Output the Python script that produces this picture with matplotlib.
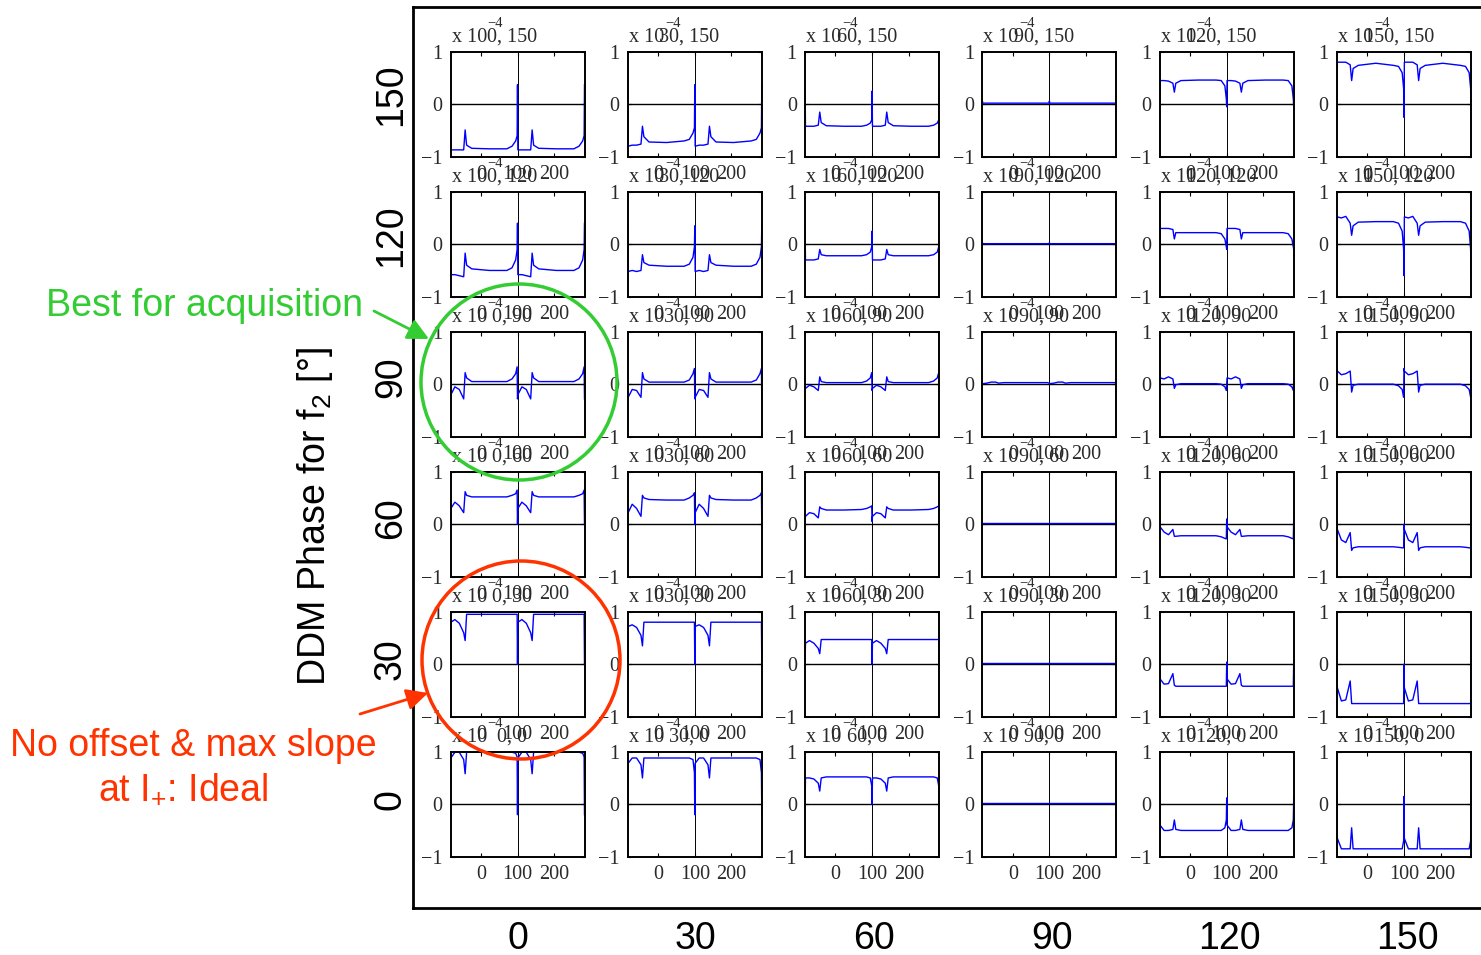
import matplotlib.pyplot as plt
from matplotlib.patches import Circle
from matplotlib.transforms import offset_copy

plt.rcParams['font.family'] = ['Liberation Sans', 'DejaVu Sans']
plt.rcParams['mathtext.fontset'] = 'custom'
plt.rcParams['mathtext.rm'] = 'Liberation Sans'

# phases of the 6x6 grid (columns left->right, rows top->bottom)
col_phases = [0, 30, 60, 90, 120, 150]
row_phases = [150, 120, 90, 60, 30, 0]
sub_xticks = [0, 100, 200]
sub_yticks = [-1, 0, 1]

# one period of each discriminator curve, sampled at these offsets
x_start = -83
period = 183
u_knots = [0, 1, 12, 24, 36, 40, 44, 58, 106, 154, 168, 178, 182]

# values (x 1e-4) at u_knots, one list per column, per row
row_150 = [
    [0.37, -0.87, -0.87, -0.87, -0.87, -0.49, -0.78, -0.84, -0.85, -0.85, -0.80, -0.70, -0.60],
    [0.37, -0.80, -0.78, -0.78, -0.76, -0.42, -0.62, -0.72, -0.73, -0.70, -0.67, -0.55, -0.45],
    [0.25, -0.42, -0.42, -0.42, -0.40, -0.15, -0.35, -0.41, -0.42, -0.42, -0.40, -0.36, -0.30],
    [0.06, 0.02, 0.02, 0.02, 0.02, 0.02, 0.02, 0.02, 0.02, 0.02, 0.02, 0.02, 0.02],
    [-0.05, 0.45, 0.45, 0.44, 0.40, 0.23, 0.40, 0.45, 0.46, 0.46, 0.45, 0.35, 0.10],
    [-0.25, 0.80, 0.80, 0.80, 0.75, 0.45, 0.68, 0.74, 0.78, 0.74, 0.72, 0.60, 0.30],
]
row_120 = [
    [0.40, -0.58, -0.58, -0.60, -0.62, -0.17, -0.40, -0.47, -0.50, -0.50, -0.45, -0.30, -0.10],
    [0.35, -0.52, -0.50, -0.52, -0.50, -0.20, -0.35, -0.40, -0.42, -0.42, -0.38, -0.25, -0.05],
    [0.25, -0.30, -0.30, -0.30, -0.28, -0.10, -0.20, -0.22, -0.22, -0.22, -0.20, -0.15, -0.05],
    [0.03, 0.01, 0.01, 0.01, 0.01, 0.01, 0.01, 0.01, 0.01, 0.01, 0.01, 0.01, 0.01],
    [-0.10, 0.30, 0.30, 0.30, 0.28, 0.10, 0.22, 0.22, 0.22, 0.22, 0.20, 0.10, -0.05],
    [-0.60, 0.52, 0.50, 0.53, 0.40, 0.17, 0.35, 0.42, 0.43, 0.43, 0.40, 0.25, -0.10],
]
row_90 = [
    [-0.28, -0.20, -0.05, -0.10, -0.28, 0.22, 0.12, 0.05, 0.05, 0.05, 0.10, 0.20, 0.33],
    [-0.28, -0.25, -0.10, -0.12, -0.25, 0.22, 0.10, 0.04, 0.04, 0.04, 0.08, 0.20, 0.30],
    [-0.12, -0.08, -0.02, -0.05, -0.12, 0.14, 0.05, 0.03, 0.03, 0.03, 0.06, 0.12, 0.22],
    [0.01, 0.01, 0.02, 0.04, 0.04, 0.03, 0.02, 0.03, 0.03, 0.03, 0.03, 0.03, 0.02],
    [0.00, 0.12, 0.10, 0.14, 0.10, -0.08, -0.01, 0.01, 0.01, 0.01, 0.00, -0.05, -0.12],
    [0.30, 0.25, 0.18, 0.20, 0.25, -0.15, -0.02, 0.00, 0.00, 0.00, -0.03, -0.10, -0.25],
]
row_60 = [
    [0.00, 0.30, 0.42, 0.35, 0.22, 0.62, 0.55, 0.52, 0.52, 0.52, 0.55, 0.58, 0.65],
    [0.00, 0.22, 0.38, 0.30, 0.15, 0.55, 0.50, 0.47, 0.46, 0.46, 0.50, 0.55, 0.60],
    [0.05, 0.15, 0.22, 0.20, 0.12, 0.33, 0.30, 0.27, 0.27, 0.28, 0.30, 0.33, 0.35],
    [0.02, 0.02, 0.02, 0.02, 0.02, 0.02, 0.02, 0.02, 0.02, 0.02, 0.02, 0.02, 0.02],
    [0.10, -0.05, -0.15, -0.20, -0.10, -0.23, -0.23, -0.22, -0.22, -0.22, -0.24, -0.27, -0.28],
    [0.00, -0.10, -0.30, -0.35, -0.16, -0.50, -0.45, -0.43, -0.43, -0.43, -0.44, -0.45, -0.45],
]
row_30 = [
    [0.00, 0.80, 0.85, 0.78, 0.60, 0.45, 0.95, 0.95, 0.95, 0.95, 0.95, 0.95, 0.95],
    [0.00, 0.72, 0.75, 0.70, 0.55, 0.35, 0.80, 0.80, 0.80, 0.80, 0.80, 0.80, 0.80],
    [0.00, 0.40, 0.45, 0.40, 0.30, 0.20, 0.47, 0.47, 0.47, 0.47, 0.47, 0.47, 0.47],
    [0.02, 0.02, 0.02, 0.02, 0.02, 0.02, 0.02, 0.02, 0.02, 0.02, 0.02, 0.02, 0.02],
    [0.04, -0.28, -0.38, -0.37, -0.18, -0.40, -0.42, -0.42, -0.42, -0.42, -0.42, -0.42, -0.42],
    [0.00, -0.45, -0.70, -0.68, -0.32, -0.75, -0.75, -0.75, -0.75, -0.75, -0.75, -0.75, -0.75],
]
row_0 = [
    [-0.20, 0.88, 0.99, 0.99, 0.85, 0.58, 0.99, 0.99, 0.99, 0.99, 0.99, 0.97, 0.90],
    [-0.20, 0.78, 0.88, 0.88, 0.75, 0.50, 0.88, 0.88, 0.88, 0.88, 0.88, 0.85, 0.60],
    [0.00, 0.50, 0.50, 0.48, 0.40, 0.25, 0.50, 0.52, 0.52, 0.52, 0.52, 0.50, 0.35],
    [0.03, 0.03, 0.03, 0.03, 0.03, 0.03, 0.03, 0.03, 0.03, 0.03, 0.03, 0.03, 0.03],
    [0.12, -0.40, -0.50, -0.50, -0.48, -0.30, -0.48, -0.50, -0.50, -0.50, -0.50, -0.45, -0.30],
    [0.15, -0.65, -0.85, -0.85, -0.85, -0.45, -0.85, -0.85, -0.85, -0.85, -0.85, -0.85, -0.70],
]
grid_rows = [row_150, row_120, row_90, row_60, row_30, row_0]

W, H = 1481, 955
green = '#33cc33'
red = '#ff3300'
sub_color = '#2a2a2a'


def px_box(l, t, r, b):
    return [l / W, 1 - b / H, (r - l) / W, (b - t) / H]


fig = plt.figure(figsize=(W / 100, H / 100), dpi=100)

# big frame with phase labels
outer = fig.add_axes(px_box(413, 7, 1486, 908))
outer.set_xlim(-17.7, 163.2)
outer.set_ylim(-22.98, 168.7)
outer.set_xticks(col_phases)
outer.set_yticks(row_phases)
outer.tick_params(axis='x', length=0, labelsize=27, pad=9)
outer.tick_params(axis='y', length=0, labelsize=27, pad=3)
for lab in outer.get_yticklabels():
    lab.set_rotation(90)
    lab.set_va('center')
for s in outer.spines.values():
    s.set_linewidth(2)
fig.text(315 / W, 1 - 517 / H, r'DDM Phase for f$\mathregular{_2}$ [°]',
         rotation=90, ha='center', va='center', fontsize=27)

# 6x6 small panels
for r, row_vals in enumerate(grid_rows):
    for c, vals in enumerate(row_vals):
        left = 450.5 + 177.3 * c
        top = 51.7 + 140 * r
        ax = fig.add_axes(px_box(left, top, left + 134, top + 105))
        xs = ([x_start + u for u in u_knots] + [x_start + period + u for u in u_knots]
              + [x_start + 2 * period])
        ys = vals + vals + [vals[0]]
        ax.axhline(0, color='k', lw=1.0, zorder=1)
        ax.axvline(100, color='k', lw=0.7, zorder=1)
        ax.plot(xs, ys, color='#0000ff', lw=1.0, zorder=2)
        ax.set_xlim(x_start, x_start + 2 * period)
        ax.set_ylim(-1, 1)
        ax.set_xticks(sub_xticks)
        ax.set_yticks(sub_yticks)
        ax.tick_params(direction='in', top=True, right=True, length=3,
                       labelsize=14.5, labelcolor=sub_color, pad=6)
        for lab in ax.get_xticklabels() + ax.get_yticklabels():
            lab.set_family('Liberation Serif')
        for s in ax.spines.values():
            s.set_linewidth(1.4)
        ax.set_title(f'{col_phases[c]}, {row_phases[r]}', x=0.46, pad=7,
                     fontsize=14.5, color=sub_color, family='Liberation Serif')
        tr = offset_copy(ax.transAxes, fig=fig, x=1, y=10, units='dots')
        ax.text(0, 1, 'x 10', transform=tr, ha='left', va='baseline',
                fontsize=14.5, color=sub_color, family='Liberation Serif')
        tr2 = offset_copy(ax.transAxes, fig=fig, x=37, y=25, units='dots')
        ax.text(0, 1, '\u22124', transform=tr2, ha='left', va='baseline',
                fontsize=10.5, color=sub_color, family='Liberation Serif')

# annotations on top
ov = fig.add_axes([0, 0, 1, 1], zorder=10)
ov.set_xlim(0, W)
ov.set_ylim(H, 0)
ov.axis('off')
ov.patch.set_alpha(0)
ov.add_patch(Circle((519, 382), 98, fill=False, ec=green, lw=2.5))
ov.add_patch(Circle((521, 660), 99, fill=False, ec=red, lw=2.5))
ov.text(204, 306, 'Best for acquisition', color=green, fontsize=27,
        ha='center', va='center')
ov.text(193, 746, 'No offset & max slope', color=red, fontsize=27,
        ha='center', va='center')
ov.text(183, 790, r'at $\mathregular{I_{{+}}}$: Ideal', color=red, fontsize=27,
        ha='center', va='center')
ov.annotate('', xy=(429, 339), xytext=(374, 311),
            arrowprops=dict(arrowstyle='-|>', color=green, lw=2, mutation_scale=32,
                            shrinkA=0, shrinkB=0))
ov.annotate('', xy=(428, 693), xytext=(360, 714),
            arrowprops=dict(arrowstyle='-|>', color=red, lw=2, mutation_scale=32,
                            shrinkA=0, shrinkB=0))

fig.savefig('out.png', dpi=100)
